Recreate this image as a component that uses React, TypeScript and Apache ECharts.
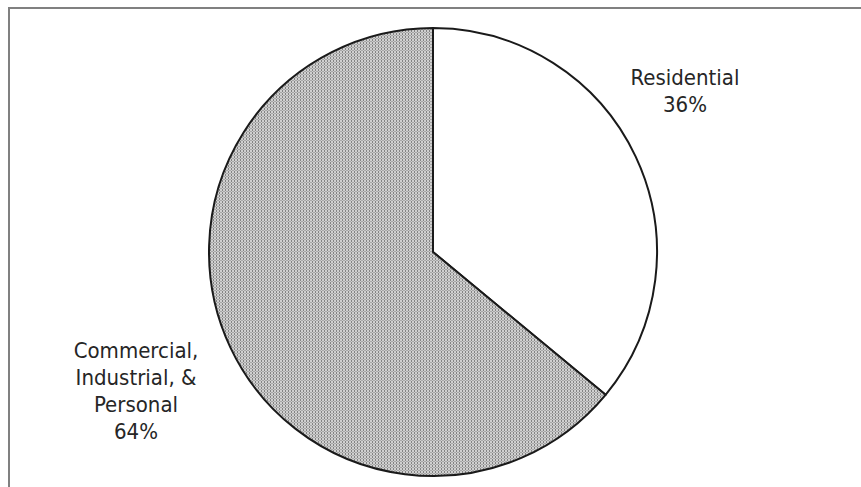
import React, { useEffect, useRef } from "react";
import * as echarts from "echarts";

// Share of the total by customer group (percent)
const categories = ["Residential", "Commercial,\nIndustrial, &\nPersonal"];
const shares = [36, 64];

// Fine dotted screen used for the shaded slice
function makeScreen(): string {
  const c = document.createElement("canvas");
  c.width = 3;
  c.height = 3;
  const ctx = c.getContext("2d")!;
  ctx.fillStyle = "#d0d0d0";
  ctx.fillRect(0, 0, 3, 3);
  ctx.fillStyle = "#838383";
  ctx.fillRect(0, 0, 1, 2);
  ctx.fillStyle = "#a8a8a8";
  ctx.fillRect(1, 2, 2, 1);
  return c.toDataURL();
}

export default function App() {
  const ref = useRef<HTMLDivElement>(null);

  useEffect(() => {
    if (!ref.current) return;
    const chart = echarts.init(ref.current, undefined, { renderer: "svg" });
    const screen = makeScreen();
    const fills = ["#ffffff", { image: screen, repeat: "repeat" }];
    const labelSpots = [
      { x: 685, y: 91 },
      { x: 136, y: 391 },
    ];

    chart.setOption({
      animation: false,
      backgroundColor: "#ffffff",
      graphic: [
        {
          type: "line",
          shape: { x1: 8, y1: 8, x2: 861, y2: 8 },
          style: { stroke: "#808080", lineWidth: 2 },
          silent: true,
        },
        {
          type: "line",
          shape: { x1: 9, y1: 7, x2: 9, y2: 487 },
          style: { stroke: "#808080", lineWidth: 2 },
          silent: true,
        },
      ],
      series: [
        {
          type: "pie",
          center: [433, 252],
          radius: 224,
          startAngle: 90,
          clockwise: true,
          silent: true,
          avoidLabelOverlap: false,
          itemStyle: { borderColor: "#1a1a1a", borderWidth: 2 },
          label: {
            show: true,
            position: "outside",
            color: "#262626",
            fontSize: 22,
            lineHeight: 27,
            fontFamily:
              "'DejaVu Sans Condensed', 'Liberation Sans Narrow', 'Roboto', sans-serif",
            align: "center",
            formatter: (p: any) => `${p.name}\n${p.value}%`,
          },
          labelLine: { show: false },
          labelLayout: (params: any) => ({
            x: labelSpots[params.dataIndex].x,
            y: labelSpots[params.dataIndex].y,
            align: "center",
            verticalAlign: "middle",
          }),
          data: categories.map((name, i) => ({
            name,
            value: shares[i],
            itemStyle: { color: fills[i] },
          })),
        },
      ],
    });

    return () => chart.dispose();
  }, []);

  return (
    <div
      ref={ref}
      style={{ position: "fixed", left: 0, top: 0, width: 861, height: 487 }}
    />
  );
}
